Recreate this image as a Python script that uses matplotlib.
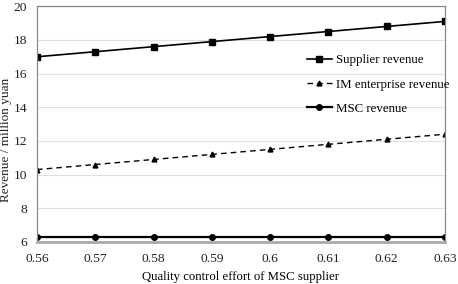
import matplotlib
matplotlib.use("Agg")
import matplotlib.pyplot as plt

x = [0.56, 0.57, 0.58, 0.59, 0.60, 0.61, 0.62, 0.63]
x_labels = ["0.56", "0.57", "0.58", "0.59", "0.6", "0.61", "0.62", "0.63"]
supplier = [17.0, 17.3, 17.6, 17.9, 18.2, 18.5, 18.8, 19.1]
im_ent = [10.3, 10.6, 10.9, 11.2, 11.5, 11.8, 12.1, 12.4]
msc = [6.3, 6.3, 6.3, 6.3, 6.3, 6.3, 6.3, 6.3]
y_ticks = [6, 8, 10, 12, 14, 16, 18, 20]

plt.rcParams['font.family'] = ['Liberation Serif', 'DejaVu Serif']

fig = plt.figure(figsize=(4.58, 2.84), dpi=100)
ax = fig.add_axes([0.0808, 0.148, 0.8908, 0.830])

ax.plot(x, supplier, color='black', lw=1.2, marker='s', ms=4.5, label='Supplier revenue')
ax.plot(x, im_ent, color='black', lw=1.0, ls=(0, (4, 3)), marker='^', ms=3.5, label='IM enterprise revenue')
ax.plot(x, msc, color='black', lw=1.6, marker='o', ms=4, label='MSC revenue')

ax.set_xlim(0.56, 0.63)
ax.set_ylim(6, 20)
ax.set_xticks(x)
ax.set_xticklabels(x_labels)
ax.set_yticks(y_ticks)
ax.tick_params(axis='both', length=0, labelsize=9.7, colors='#222222')
ax.tick_params(axis='x', pad=8)
ax.tick_params(axis='y', pad=7)
ax.grid(axis='y', color='#e0e0e0', lw=0.8)
ax.set_axisbelow(True)
for s in ['left', 'right', 'top']:
    ax.spines[s].set_color('#888888')
    ax.spines[s].set_linewidth(0.9)
ax.spines['bottom'].set_color('#aaaaaa')
ax.spines['bottom'].set_linewidth(2.0)

ax.set_xlabel('Quality control effort of MSC supplier', fontsize=9.2, labelpad=4)
fig.text(6.5 / 458, 1 - 140 / 284, 'Revenue / million yuan', fontsize=9.5, rotation=90,
         ha='center', va='center', color='#222222')

ax.legend(loc='upper left', bbox_to_anchor=(0.648, 0.818), frameon=False, fontsize=9.3,
          handlelength=2.0, handletextpad=0.3, labelspacing=0.95, borderaxespad=0)

fig.savefig('out.png', dpi=100)
